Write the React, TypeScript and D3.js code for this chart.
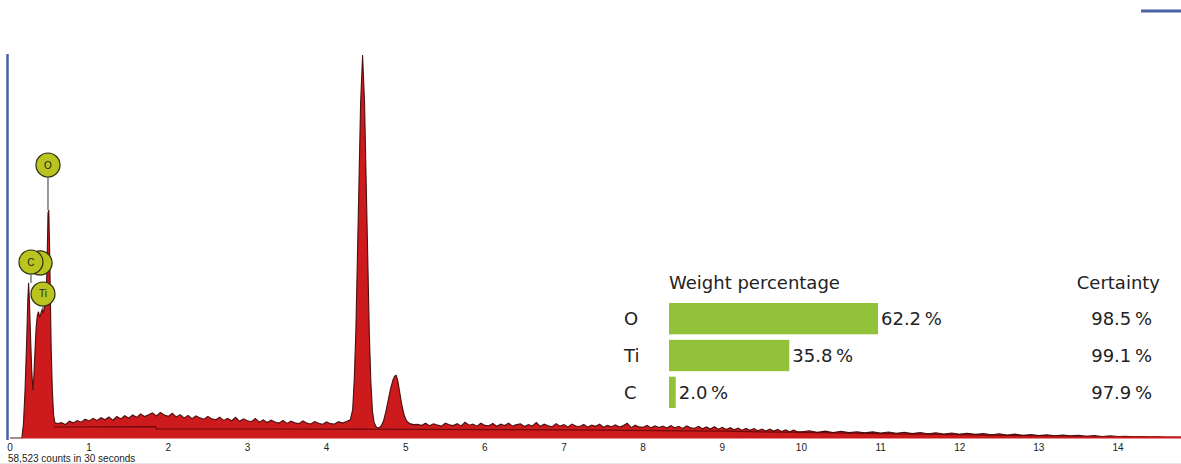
import React from "react";
import * as d3 from "d3";

// ---------- DATA ----------
const xTicks = [0, 1, 2, 3, 4, 5, 6, 7, 8, 9, 10, 11, 12, 13, 14];

// Low-energy region: C K, Ti L, O K peaks
const lowKeV = [0, 0.15, 0.17, 0.19, 0.21, 0.225, 0.235, 0.245, 0.26, 0.275, 0.29, 0.3, 0.315, 0.33, 0.345, 0.36, 0.375, 0.39, 0.405, 0.42, 0.435, 0.45, 0.46, 0.47, 0.48, 0.49, 0.5, 0.51, 0.52, 0.535, 0.55, 0.565, 0.58];
const lowCounts = [0, 0, 150, 500, 1000, 1450, 1620, 1450, 1050, 700, 500, 620, 900, 1150, 1280, 1320, 1260, 1300, 1340, 1310, 1360, 1420, 1550, 1900, 2350, 2380, 2000, 1500, 950, 500, 250, 165, 155];

// Background 0.60 .. 4.25 keV, every 0.05 keV
const bgAStartKeV = 0.6;
const bgAStepKeV = 0.05;
const bgACounts = [
  152, 160, 140, 176, 158, 182, 165, 196, 178, 206,
  184, 212, 190, 220, 186, 226, 200, 234, 206, 240,
  216, 252, 224, 242, 262, 230, 268, 240, 226, 258,
  220, 244, 210, 236, 202, 232, 210, 196, 226, 200,
  190, 218, 184, 206, 180, 216, 174, 200, 180, 170,
  204, 166, 190, 162, 186, 168, 156, 184, 152, 176,
  160, 150, 178, 156, 146, 172, 154, 144, 168, 150,
  146, 170, 156, 172,
];

// Ti K-alpha / K-beta region
const tiKeV = [4.3, 4.33, 4.35, 4.37, 4.39, 4.41, 4.43, 4.455, 4.48, 4.5, 4.52, 4.54, 4.56, 4.58, 4.6, 4.63, 4.66, 4.69, 4.72, 4.75, 4.78, 4.81, 4.84, 4.86, 4.88, 4.9, 4.92, 4.95, 4.98, 5.01, 5.05, 5.1];
const tiCounts = [190, 300, 620, 1120, 1900, 2700, 3500, 4000, 3500, 2700, 1900, 1100, 580, 280, 165, 112, 105, 125, 180, 280, 400, 520, 610, 645, 655, 600, 500, 350, 240, 180, 150, 140];

// Background 5.15 .. 9.95 keV, every 0.05 keV
const bgBStartKeV = 5.15;
const bgBStepKeV = 0.05;
const bgBCounts = [
  142, 132, 154, 128, 148, 136, 124, 156, 138, 130,
  150, 126, 164, 134, 146, 124, 154, 132, 128, 152,
  122, 144, 130, 156, 124, 140, 148, 120, 140, 126,
  162, 122, 144, 128, 118, 150, 124, 140, 116, 146,
  126, 120, 142, 114, 136, 122, 144, 112, 132, 118,
  138, 114, 130, 154, 108, 134, 116, 112, 132, 106,
  128, 110, 124, 104, 130, 108, 122, 100, 126, 106,
  102, 122, 96, 116, 94, 118, 92, 112, 88, 108,
  86, 104, 82, 100, 80, 98, 76, 94, 74, 92,
  72, 90, 68, 86, 66, 82, 64,
];

// Background 10.0 .. 14.8 keV, every 0.1 keV
const bgCStartKeV = 10.0;
const bgCStepKeV = 0.1;
const bgCCounts = [
  66, 76, 60, 72, 58, 70, 56, 66, 54, 64,
  52, 62, 50, 60, 46, 58, 44, 54, 42, 52,
  40, 50, 38, 46, 34, 44, 32, 40, 28, 36,
  26, 34, 24, 32, 22, 28, 18, 26, 16, 22,
  14, 18, 12, 14, 10, 12, 8, 8, 6,
];

// Fitted background curve
const fitKeV = [0.55, 1.84, 1.85, 4.3, 5.1, 7, 9, 10, 11, 12, 13, 14, 14.8];
const fitCounts = [115, 118, 96, 92, 90, 85, 72, 58, 46, 34, 22, 12, 6];

// Element markers
const markerLabels = ["", "C", "Ti", "O"];
const markerKeV = [0.38, 0.265, 0.417, 0.48];
const markerCounts = [1828, 1838, 1504, 2851];
const markerStemEnd = [1700, 1620, 1320, 2380];

// Quantification table
const elements = ["O", "Ti", "C"];
const weightPct = [62.2, 35.8, 2.0];
const certaintyPct = [98.5, 99.1, 97.9];

const countsCaption = "58,523 counts in 30 seconds";

// ---------- CHART ----------
const W = 1181;
const H = 464;

export default function App() {
  const x = d3.scaleLinear().domain([0, 14]).range([10, 1118]);
  const y = d3.scaleLinear().domain([0, 4000]).range([438, 55]);

  const pts: [number, number][] = [];
  lowKeV.forEach((e, i) => pts.push([e, lowCounts[i]]));
  bgACounts.forEach((c, i) => pts.push([bgAStartKeV + i * bgAStepKeV, c]));
  tiKeV.forEach((e, i) => pts.push([e, tiCounts[i]]));
  bgBCounts.forEach((c, i) => pts.push([bgBStartKeV + i * bgBStepKeV, c]));
  bgCCounts.forEach((c, i) => pts.push([bgCStartKeV + i * bgCStepKeV, c]));

  const area = d3
    .area<[number, number]>()
    .x((d) => x(d[0]))
    .y0(y(0))
    .y1((d) => y(d[1]));
  const line = d3
    .line<[number, number]>()
    .x((d) => x(d[0]))
    .y((d) => y(d[1]));
  const fitPts: [number, number][] = fitKeV.map((e, i) => [e, fitCounts[i]]);

  const bar = d3.scaleLinear().domain([0, 100]).range([0, 336]);
  const rowY = d3.scaleBand<string>().domain(elements).range([303, 408]).paddingInner(0.15);

  const font = "DejaVu Sans, Verdana, sans-serif";
  const small = "Liberation Sans, Arial, sans-serif";
  const fs = 18;

  return (
    <svg width={W} height={H} style={{ position: "absolute", left: 0, top: 0 }}>
      <rect x={0} y={0} width={W} height={H} fill="#fff" />
      {/* top-right blue line */}
      <line x1={1141} x2={1181} y1={11} y2={11} stroke="#4a62a0" strokeWidth={3} />
      {/* spectrum */}
      <path d={area(pts) || ""} fill="#cc1a1d" />
      <path d={line(fitPts) || ""} fill="none" stroke="#6e0a0a" strokeWidth={1.2} />
      <path d={line(pts) || ""} fill="none" stroke="#3a0606" strokeWidth={1.1} strokeOpacity={0.9} />
      <line x1={x(0.15)} x2={W} y1={y(0) - 0.5} y2={y(0) - 0.5} stroke="#cc1a1d" strokeWidth={2} />
      {/* left axis */}
      <line x1={7.5} x2={7.5} y1={54} y2={440} stroke="#4a62a0" strokeWidth={2.5} />
      {/* markers */}
      {markerLabels.map((lab, i) => (
        <g key={i}>
          <line
            x1={x(markerKeV[i])}
            x2={x(markerKeV[i])}
            y1={y(markerCounts[i]) + 12}
            y2={y(markerStemEnd[i])}
            stroke="#333"
            strokeWidth={1}
          />
          <circle cx={x(markerKeV[i])} cy={y(markerCounts[i])} r={12} fill="#b9c41e" stroke="#2e2e10" strokeWidth={1.2} />
          <text
            x={x(markerKeV[i])}
            y={y(markerCounts[i]) + 3.5}
            textAnchor="middle"
            fontFamily={small}
            fontSize={10}
            fill="#222"
          >
            {lab}
          </text>
        </g>
      ))}
      {/* x tick labels */}
      {xTicks.map((t) => (
        <text key={t} x={x(t)} y={451} textAnchor="middle" fontFamily={small} fontSize={10} fill="#222">
          {t}
        </text>
      ))}
      <text x={8} y={462} fontFamily={small} fontSize={10} fill="#222">
        {countsCaption}
      </text>
      <line x1={0} x2={W} y1={463.5} y2={463.5} stroke="#e6e6e6" strokeWidth={1} />
      {/* table */}
      <text x={669} y={289} fontFamily={font} fontSize={fs} fill="#222">
        Weight percentage
      </text>
      <text x={1160} y={289} textAnchor="end" fontFamily={font} fontSize={fs} fill="#222">
        Certainty
      </text>
      {elements.map((el, i) => {
        const top = rowY(el) as number;
        const h = rowY.bandwidth();
        const w = bar(weightPct[i]);
        return (
          <g key={el}>
            <text x={624} y={top + h / 2 + 6.5} fontFamily={font} fontSize={fs} fill="#222">
              {el}
            </text>
            <rect x={669} y={top} width={w} height={h} fill="#92c13a" />
            <text x={669 + w + 3} y={top + h / 2 + 6.5} fontFamily={font} fontSize={fs} fill="#222">
              {weightPct[i].toFixed(1)}{"\u2009"}%
            </text>
            <text x={1152} y={top + h / 2 + 6.5} textAnchor="end" fontFamily={font} fontSize={fs} fill="#222">
              {certaintyPct[i].toFixed(1)}{"\u2009"}%
            </text>
          </g>
        );
      })}
    </svg>
  );
}
